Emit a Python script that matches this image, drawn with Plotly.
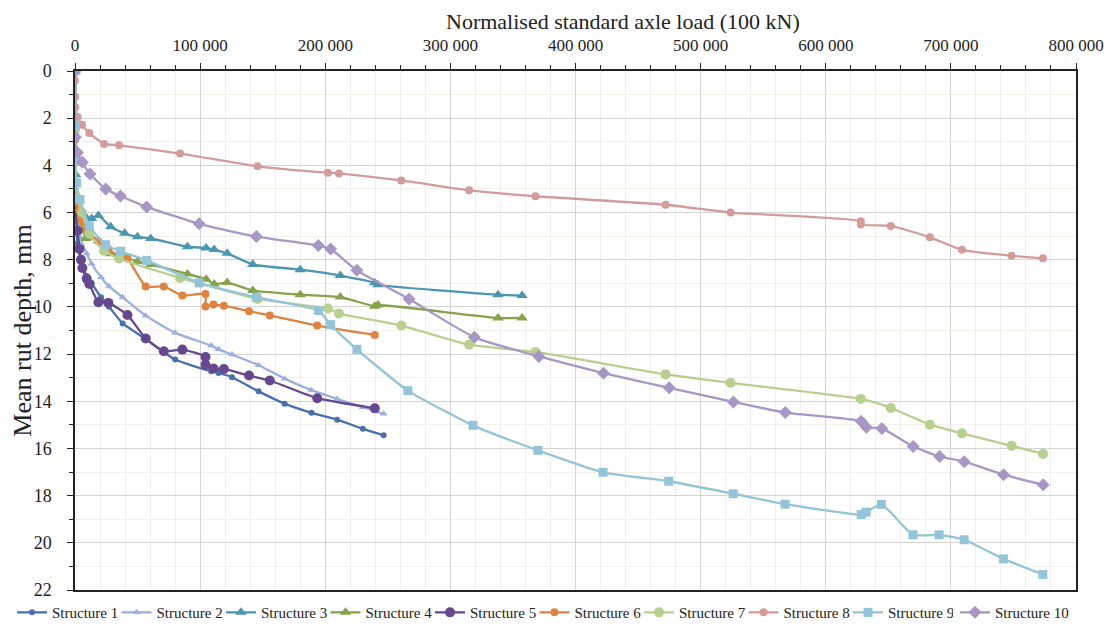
import plotly.graph_objects as go

names = ["Structure 1", "Structure 2", "Structure 3", "Structure 4", "Structure 5",
         "Structure 6", "Structure 7", "Structure 8", "Structure 9", "Structure 10"]

s1_x = [0, 500, 2100, 4500, 9300, 13300, 20800, 27200, 38100, 56500, 80000, 108800, 114700,
        125500, 146700, 167500, 189000, 209500, 230000, 246700]
s1_y = [0, 6.5, 7.3, 8.0, 8.7, 9.0, 9.59, 9.99, 10.7, 11.36, 12.23, 12.73, 12.8,
        12.98, 13.58, 14.1, 14.49, 14.78, 15.17, 15.44]

s2_x = s1_x
s2_y = [0, 5.5, 6.5, 7.08, 7.74, 8.17, 8.74, 9.13, 9.59, 10.37, 11.1, 11.64, 11.8,
        12.02, 12.47, 13.04, 13.53, 13.9, 14.25, 14.53]

s3_x = [0, 500, 4000, 8800, 13300, 18700, 28500, 39700, 49900, 60500, 89900, 104800, 111200,
        121600, 142100, 180000, 212000, 239500, 242100, 338100, 357300]
s3_y = [0, 4.4, 5.9, 6.2, 6.25, 6.13, 6.6, 6.88, 7.03, 7.1, 7.45, 7.5, 7.57,
        7.73, 8.2, 8.42, 8.67, 8.98, 9.06, 9.48, 9.52]

s4_x = s3_x
s4_y = [0, 4.7, 6.3, 7.1, 7.05, 7.2, 7.75, 7.9, 8.07, 8.2, 8.6, 8.83, 9.03,
        8.97, 9.3, 9.48, 9.58, 9.97, 9.92, 10.47, 10.47]

s5_x = [0, 500, 2100, 3500, 4800, 5900, 9300, 11500, 18700, 26700, 41900, 56500, 71000,
        85800, 104300, 104300, 110700, 119000, 139100, 155700, 193600, 239600]
s5_y = [0, 6.02, 6.77, 7.54, 8.0, 8.35, 8.8, 9.03, 9.8, 9.83, 10.34, 11.34, 11.88,
        11.81, 12.12, 12.45, 12.61, 12.63, 12.91, 13.12, 13.87, 14.3]

s6_x = [0, 200, 500, 2100, 3500, 4800, 5900, 9300, 11500, 18700, 26700, 36500, 41900, 56500,
        71000, 85800, 104300, 104300, 110700, 119000, 139100, 155700, 193600, 239600]
s6_y = [0, 2.9, 4.7, 5.6, 5.9, 6.2, 6.4, 6.7, 6.9, 7.22, 7.55, 7.86, 7.95, 9.13,
        9.13, 9.52, 9.45, 9.98, 9.9, 9.95, 10.18, 10.36, 10.79, 11.19]

s8_x = [0, 0, 100, 300, 2100, 5600, 11400, 23200, 35200, 84000, 145900, 202100, 211000,
        260800, 315000, 368000, 472000, 524000, 628000, 628000, 652000, 683200, 708800,
        748500, 773600]
s8_y = [0, 0.4, 1.09, 1.54, 1.95, 2.28, 2.63, 3.09, 3.15, 3.5, 4.04, 4.31, 4.34,
        4.64, 5.06, 5.31, 5.67, 6.0, 6.37, 6.51, 6.57, 7.05, 7.58, 7.83, 7.94]

s7_x = [0, 100, 500, 2100, 5600, 11400, 23200, 35200, 84000, 145900, 202100, 211000,
        260800, 315000, 368000, 472000, 524000, 628000, 652000, 683200, 708800, 748500, 773600]
s7_y = [0, 2.5, 4.7, 5.4, 6.0, 6.9, 7.62, 7.95, 8.77, 9.66, 10.07, 10.28,
        10.79, 11.6, 11.91, 12.86, 13.22, 13.9, 14.28, 14.99, 15.36, 15.89, 16.23]

s9_x = [0, 200, 500, 1300, 4000, 11400, 24300, 36300, 57300, 99200, 145000, 194500, 204300,
        225300, 266000, 318000, 370000, 422000, 474500, 526000, 567500, 628300, 632300,
        644500, 669700, 690600, 710600, 742000, 773500]
s9_y = [0, 2.3, 3.83, 4.75, 5.45, 6.56, 7.36, 7.64, 8.03, 8.98, 9.59, 10.15, 10.75,
        11.8, 13.55, 15.02, 16.08, 17.01, 17.39, 17.92, 18.36, 18.8, 18.7,
        18.37, 19.66, 19.66, 19.87, 20.68, 21.34]

s10_x = [0, 300, 2000, 5900, 12000, 24500, 36300, 57300, 99200, 145000, 194500, 204300,
         225300, 267000, 319200, 370700, 422400, 474900, 526200, 567700, 628300, 632500,
         644800, 669900, 691000, 710700, 742100, 773800]
s10_y = [0, 2.8, 3.45, 3.87, 4.37, 5.0, 5.3, 5.76, 6.48, 7.02, 7.4, 7.55,
         8.45, 9.67, 11.29, 12.1, 12.81, 13.43, 14.03, 14.48, 14.85, 15.1,
         15.15, 15.92, 16.34, 16.56, 17.11, 17.54]

xs = [s1_x, s2_x, s3_x, s4_x, s5_x, s6_x, s7_x, s8_x, s9_x, s10_x]
ys = [s1_y, s2_y, s3_y, s4_y, s5_y, s6_y, s7_y, s8_y, s9_y, s10_y]

colors = ["#4a6fae", "#9cb0dc", "#4b97b0", "#86a24a", "#66488e",
          "#dd8442", "#b7cf8f", "#d29c9a", "#94c4d8", "#a897c4"]
symbols = ["circle", "triangle-up", "triangle-up", "triangle-up", "circle",
           "circle", "circle", "circle", "square", "diamond"]
msizes = [6, 7, 10, 10, 10, 8, 10, 8, 9, 10]

fig = go.Figure()
for i in range(10):
    fig.add_trace(go.Scatter(
        x=xs[i], y=ys[i], name=names[i], mode="lines+markers",
        line=dict(color=colors[i], width=2.3, shape="spline", smoothing=0.5),
        marker=dict(color=colors[i], symbol=symbols[i], size=msizes[i]),
        legend="legend" if i < 9 else "legend2",
    ))

W, H = 1107, 629
L, R = 67, 39
font_family = "Liberation Serif"
leg_common = dict(orientation="h", xref="container", yref="container",
                  xanchor="left", y=0.065, yanchor="top", bgcolor="rgba(0,0,0,0)",
                  font=dict(family=font_family, size=15, color="#222"),
                  itemwidth=30, tracegroupgap=0)
fig.update_layout(
    width=W, height=H,
    margin=dict(l=0, r=0, t=63, b=47, autoexpand=False),
    paper_bgcolor="white", plot_bgcolor="white",
    font=dict(family=font_family, size=16, color="#222"),
    separators=". ",
    showlegend=True,
    legend=dict(x=4 / W, entrywidth=59.5, **leg_common),
    legend2=dict(x=947 / W, **leg_common),
    annotations=[dict(text="Normalised standard axle load (100 kN)",
                      xref="paper", yref="paper", x=615 / W,
                      xanchor="center", y=1, yshift=50, yanchor="middle",
                      showarrow=False,
                      font=dict(family=font_family, size=22, color="#222"))],
    xaxis=dict(
        domain=[L / W, 1 - R / W],
        side="top", range=[0, 800000], dtick=100000, tick0=0, tickformat=",d",
        automargin=False, ticklabelstandoff=5,
        tickfont=dict(family=font_family, size=17, color="#222"),
        showline=True, linecolor="#222", linewidth=1.5, mirror=True,
        ticks="outside", ticklen=6, tickcolor="#222",
        showgrid=True, gridcolor="#d4d4d4", gridwidth=1, zeroline=False,
        minor=dict(dtick=20000, showgrid=True, gridcolor="#efefef",
                   ticks="outside", ticklen=4, tickcolor="#222"),
    ),
    yaxis=dict(
        range=[22, 0], dtick=2, tick0=0, automargin=False, ticklabelstandoff=12,
        title=dict(text="Mean rut depth, mm", standoff=4,
                   font=dict(family=font_family, size=26, color="#222")),
        tickfont=dict(family=font_family, size=18, color="#222"),
        showline=True, linecolor="#222", linewidth=1.5, mirror=True,
        ticks="outside", ticklen=6, tickcolor="#222",
        showgrid=True, gridcolor="#d4d4d4", gridwidth=1, zeroline=False,
        minor=dict(dtick=1, showgrid=True, gridcolor="#f1f1ea",
                   ticks="outside", ticklen=4, tickcolor="#222"),
    ),
)

fig.write_html("out.html")
